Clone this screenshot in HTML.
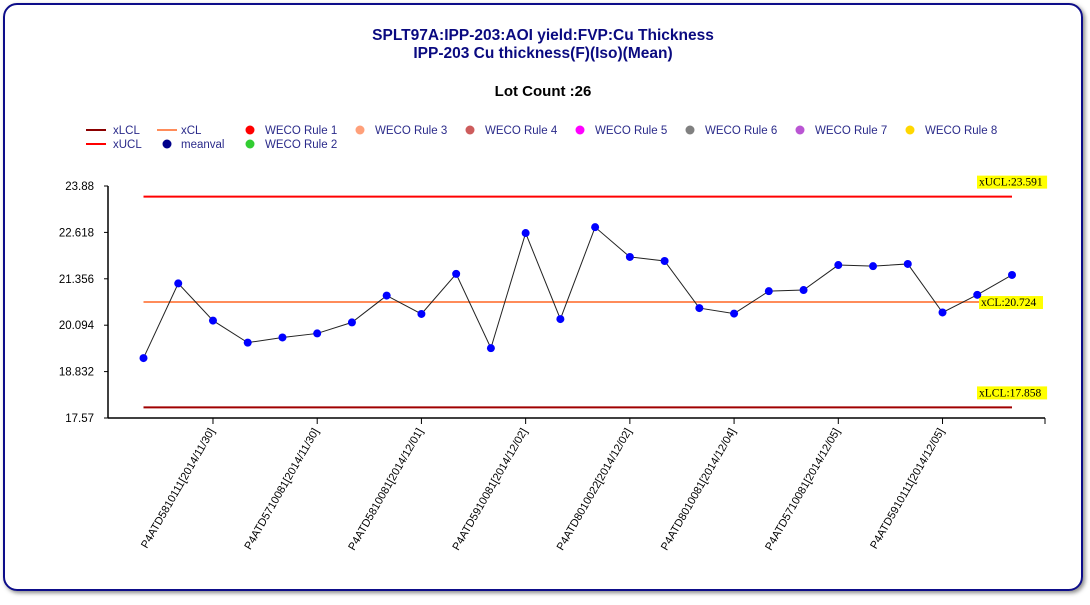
<!DOCTYPE html>
<html><head><meta charset="utf-8"><style>
body{margin:0;background:#fff;font-family:"Liberation Sans",sans-serif}
</style></head><body>
<svg id="chart" width="1090" height="600" xmlns="http://www.w3.org/2000/svg" font-family="Liberation Sans, sans-serif">
<defs><filter id="sh" x="-5%" y="-5%" width="110%" height="110%"><feDropShadow dx="2" dy="2" stdDeviation="2" flood-color="#888"/></filter></defs>
<rect x="4" y="4" width="1078" height="586" rx="13" fill="#fff" stroke="#0a0a8a" stroke-width="2" filter="url(#sh)"/>
<text x="543" y="40" text-anchor="middle" font-size="15.5" font-weight="bold" fill="#0a0a80">SPLT97A:IPP-203:AOI yield:FVP:Cu Thickness</text>
<text x="543" y="58" text-anchor="middle" font-size="15.5" font-weight="bold" fill="#0a0a80">IPP-203 Cu thickness(F)(Iso)(Mean)</text>
<text x="543" y="96" text-anchor="middle" font-size="15" font-weight="bold" fill="#000">Lot Count :26</text>
<g id="legend" font-size="11.5" fill="#2a2a8a"></g>
<g id="plot"></g>
</svg>
<script>
const values=[19.20,21.23,20.22,19.62,19.76,19.87,20.17,20.90,20.40,21.49,19.47,22.60,20.26,22.76,21.95,21.84,20.56,20.41,21.02,21.05,21.73,21.70,21.76,20.44,20.92,21.46];
const tickIdx=[2,5,8,11,14,17,20,23];
const tickLabels=["P4ATD5810111[2014/11/30]","P4ATD5710081[2014/11/30]","P4ATD5810081[2014/12/01]","P4ATD5910081[2014/12/02]","P4ATD8010022[2014/12/02]","P4ATD8010081[2014/12/04]","P4ATD5710081[2014/12/05]","P4ATD5910111[2014/12/05]"];
const yTicks=[17.57,18.832,20.094,21.356,22.618,23.88];
const limitNames=["xUCL","xCL","xLCL"];
const limitValues=[23.591,20.724,17.858];
const limitColors=["#ff0000","#ff8c5a","#a00000"];
const NS="http://www.w3.org/2000/svg";
const svg=document.getElementById('chart'),plot=document.getElementById('plot'),leg=document.getElementById('legend');
function mk(t,a,p){const e=document.createElementNS(NS,t);for(const k in a)e.setAttribute(k,a[k]);(p||plot).appendChild(e);return e;}
const x0=108,x1=1045,yTop=186,yBot=418,yMin=17.57,yMax=23.88;
const sx=i=>143.5+i*(1012-143.5)/(values.length-1);
const sy=v=>yBot-(v-yMin)/(yMax-yMin)*(yBot-yTop);
let e;
e=mk('line',{x1:x0,y1:yTop,x2:x0,y2:yBot,stroke:'#000','stroke-width':1.5});

e=mk('line',{x1:x0,y1:yBot,x2:x1,y2:yBot,stroke:'#000','stroke-width':1.5});

mk('line',{x1:x1,y1:yBot,x2:x1,y2:yBot+6,stroke:'#000'});
yTicks.forEach(v=>{
 mk('line',{x1:x0-4,y1:sy(v),x2:x0,y2:sy(v),stroke:'#000'});
 e=mk('text',{x:x0-14,y:sy(v)+4,'text-anchor':'end','font-size':11.5,fill:'#000'});e.textContent=String(v);
 
});
tickIdx.forEach((ix,j)=>{
 const x=sx(ix);
 mk('line',{x1:x,y1:yBot,x2:x,y2:yBot+6,stroke:'#000'});
 e=mk('text',{x:x+2,y:yBot+13,'text-anchor':'end','font-size':11,fill:'#000',transform:`rotate(-60 ${x+2} ${yBot+13})`});
 e.textContent=tickLabels[j];
 
});
limitValues.forEach((v,i)=>{
 e=mk('line',{x1:sx(0),y1:sy(v),x2:sx(values.length-1),y2:sy(v),stroke:limitColors[i],'stroke-width':2});
 
 const txt=limitNames[i]+':'+v;
 const w=txt.length*6.1+3, rx=i==1?979:977, ry=sy(v)-(i==1?-3:12);
 e=mk('rect',{x:rx,y:ry-9,width:w,height:13,fill:'#ffff00'});
 
 e=mk('text',{x:rx+2,y:ry+1,'font-size':11.5,'font-family':'Liberation Serif, serif',fill:'#000'});e.textContent=txt;
 
});
e=mk('polyline',{points:values.map((v,i)=>sx(i)+','+sy(v)).join(' '),fill:'none',stroke:'#222','stroke-width':1});

values.forEach((v,i)=>{
 e=mk('circle',{cx:sx(i),cy:sy(v),r:4,fill:'#0000ff'});
 
});
const legItems=[["line","#8b0000",86,130,"xLCL",113],["line","#ff8c5a",157,130,"xCL",181],["dot","#ff0000",250,130,"WECO Rule 1",265],["dot","#ffa07a",360,130,"WECO Rule 3",375],["dot","#cd5c5c",470,130,"WECO Rule 4",485],["dot","#ff00ff",580,130,"WECO Rule 5",595],["dot","#808080",690,130,"WECO Rule 6",705],["dot","#ba55d3",800,130,"WECO Rule 7",815],["dot","#ffd700",910,130,"WECO Rule 8",925],["line","#ff0000",86,144,"xUCL",113],["dot","#00008b",167,144,"meanval",181],["dot","#32cd32",250,144,"WECO Rule 2",265]];
legItems.forEach(it=>{
 if(it[0]=="line")mk('line',{x1:it[2],y1:it[3],x2:it[2]+20,y2:it[3],stroke:it[1],'stroke-width':2},leg);
 else mk('circle',{cx:it[2],cy:it[3],r:4.5,fill:it[1]},leg);
 e=mk('text',{x:it[5],y:it[3]+4},leg);e.textContent=it[4];
 
});
</script>
</body></html>
